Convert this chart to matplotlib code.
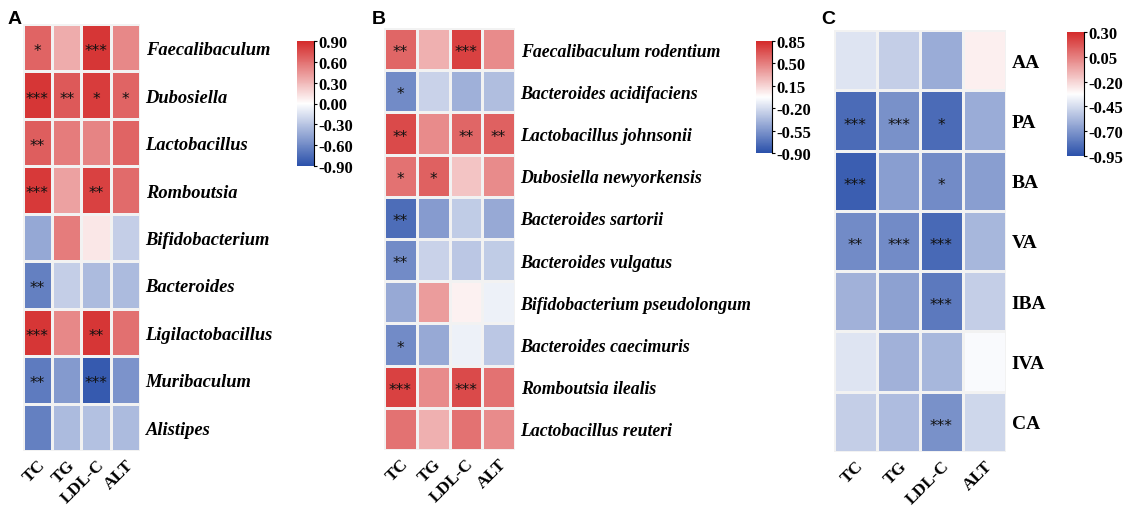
import numpy as np
import matplotlib
matplotlib.use("Agg")
import matplotlib.pyplot as plt
from matplotlib.colors import LinearSegmentedColormap, Normalize

# ---------------- data ----------------
cols = ["TC", "TG", "LDL-C", "ALT"]

rows_a = ["Faecalibaculum", "Dubosiella", "Lactobacillus", "Romboutsia",
          "Bifidobacterium", "Bacteroides", "Ligilactobacillus", "Muribaculum", "Alistipes"]
vals_a = [
    [0.65, 0.35, 0.85, 0.50],
    [0.85, 0.70, 0.82, 0.65],
    [0.68, 0.55, 0.52, 0.65],
    [0.83, 0.40, 0.80, 0.62],
    [-0.45, 0.55, 0.10, -0.25],
    [-0.65, -0.25, -0.35, -0.35],
    [0.85, 0.50, 0.85, 0.60],
    [-0.68, -0.52, -0.85, -0.55],
    [-0.65, -0.35, -0.32, -0.35],
]
stars_a = [
    ["*", "", "***", ""],
    ["***", "**", "*", "*"],
    ["**", "", "", ""],
    ["***", "", "**", ""],
    ["", "", "", ""],
    ["**", "", "", ""],
    ["***", "", "**", ""],
    ["**", "", "***", ""],
    ["", "", "", ""],
]
ticks_a = [0.90, 0.60, 0.30, 0.00, -0.30, -0.60, -0.90]

rows_b = ["Faecalibaculum rodentium", "Bacteroides acidifaciens", "Lactobacillus johnsonii",
          "Dubosiella newyorkensis", "Bacteroides sartorii", "Bacteroides vulgatus",
          "Bifidobacterium pseudolongum", "Bacteroides caecimuris", "Romboutsia ilealis",
          "Lactobacillus reuteri"]
vals_b = [
    [0.60, 0.30, 0.75, 0.45],
    [-0.60, -0.25, -0.42, -0.35],
    [0.72, 0.45, 0.60, 0.62],
    [0.55, 0.62, 0.22, 0.45],
    [-0.75, -0.52, -0.28, -0.45],
    [-0.60, -0.25, -0.30, -0.28],
    [-0.45, 0.38, 0.03, -0.10],
    [-0.60, -0.45, -0.10, -0.30],
    [0.75, 0.45, 0.72, 0.55],
    [0.55, 0.30, 0.55, 0.45],
]
stars_b = [
    ["**", "", "***", ""],
    ["*", "", "", ""],
    ["**", "", "**", "**"],
    ["*", "*", "", ""],
    ["**", "", "", ""],
    ["**", "", "", ""],
    ["", "", "", ""],
    ["*", "", "", ""],
    ["***", "", "***", ""],
    ["", "", "", ""],
]
ticks_b = [0.85, 0.50, 0.15, -0.20, -0.55, -0.90]

rows_c = ["AA", "PA", "BA", "VA", "IBA", "IVA", "CA"]
vals_c = [
    [-0.42, -0.50, -0.62, -0.28],
    [-0.85, -0.72, -0.85, -0.62],
    [-0.90, -0.67, -0.74, -0.67],
    [-0.74, -0.74, -0.86, -0.58],
    [-0.60, -0.66, -0.80, -0.50],
    [-0.42, -0.60, -0.58, -0.34],
    [-0.50, -0.56, -0.72, -0.47],
]
stars_c = [
    ["", "", "", ""],
    ["***", "***", "*", ""],
    ["***", "", "*", ""],
    ["**", "***", "***", ""],
    ["", "", "***", ""],
    ["", "", "", ""],
    ["", "", "***", ""],
]
ticks_c = [0.30, 0.05, -0.20, -0.45, -0.70, -0.95]

# ---------------- style ----------------
W, H = 1132, 510
fig = plt.figure(figsize=(W / 100, H / 100), dpi=100)
cmap = LinearSegmentedColormap.from_list("rwb", ["#2A50AA", "#FFFFFF", "#D42A2A"])
SERIF = "Liberation Serif"
SANS = "Liberation Sans"


def rect(l, t, r, b):
    return [l / W, 1 - b / H, (r - l) / W, (b - t) / H]


def panel(letter, lx, hm, cb, rows, vals, stars, ticks, italic, row_fs):
    l, t, r, b = hm
    ax = fig.add_axes(rect(l, t, r, b))
    data = np.array(vals)
    vmin, vmax = min(ticks), max(ticks)
    norm = Normalize(vmin, vmax)
    m = ax.pcolormesh(data, cmap=cmap, norm=norm, edgecolors="#F2F2F2", linewidth=0.9)
    ax.set_xlim(0, data.shape[1])
    ax.set_ylim(data.shape[0], 0)
    for s in ax.spines.values():
        s.set_visible(False)
    ax.set_xticks(np.arange(data.shape[1]) + 0.5)
    ax.set_xticklabels(cols, rotation=45, ha="right", va="top", rotation_mode="anchor",
                       fontfamily=SERIF, fontweight="bold", fontsize=12.5)
    ax.tick_params(axis="x", length=0, pad=4)
    ax.yaxis.tick_right()
    ax.set_yticks(np.arange(data.shape[0]) + 0.5)
    ax.set_yticklabels(rows, fontfamily=SERIF, fontweight="bold",
                       fontstyle="italic" if italic else "normal", fontsize=row_fs)
    ax.tick_params(axis="y", length=0, pad=4)
    for i in range(data.shape[0]):
        for j in range(data.shape[1]):
            if stars[i][j]:
                ax.text(j + 0.5, i + 0.56, stars[i][j], ha="center", va="center",
                        fontsize=11, color="#111111", fontfamily="DejaVu Sans")
    cax = fig.add_axes(rect(*cb))
    cbar = fig.colorbar(m, cax=cax, ticks=ticks)
    cbar.outline.set_visible(False)
    cax.plot([1, 1], [0, 1], transform=cax.transAxes, color="black", lw=0.8, clip_on=False)
    cax.set_yticklabels(["%.2f" % v for v in ticks], fontfamily=SERIF, fontweight="bold", fontsize=12)
    cax.tick_params(axis="y", length=2.5, width=0.8, pad=0.5)
    fig.text(lx / W, 1 - 19 / H, letter, fontfamily=SANS, fontweight="bold", fontsize=14,
             ha="left", va="center")


panel("A", 8, (22.7, 25, 140, 452), (297, 42, 314, 167), rows_a, vals_a, stars_a, ticks_a, True, 13.3)
panel("B", 372, (384, 29, 515, 451), (756, 42, 772, 154), rows_b, vals_b, stars_b, ticks_b, True, 12.8)
panel("C", 821, (834, 31, 1006, 453), (1067, 33, 1084, 157), rows_c, vals_c, stars_c, ticks_c, False, 14)

fig.savefig("out.png", dpi=100)
